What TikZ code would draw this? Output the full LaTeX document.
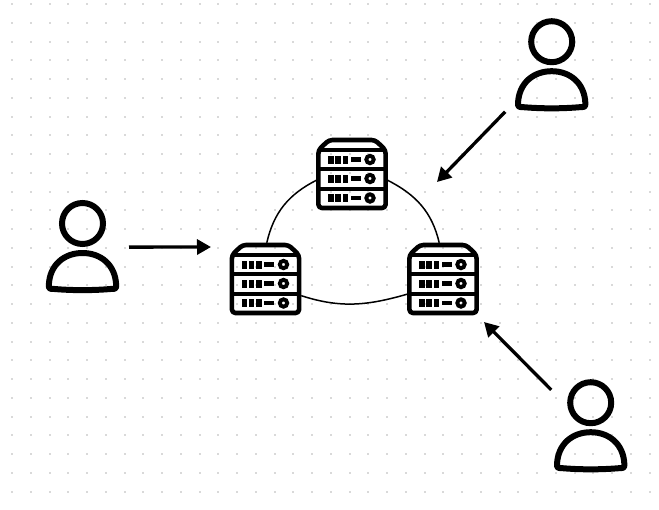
\documentclass[tikz,border=0pt]{standalone}
\usepackage{tikz}
\usetikzlibrary{arrows.meta,calc,positioning}

\begin{document}
\begin{tikzpicture}[x=1pt,y=-1pt,
              griddot/.style={fill=black!15},
              hostbox/.style={inner sep=0pt,minimum width=71pt,minimum height=72pt},
              userbox/.style={inner sep=0pt,minimum width=73pt,minimum height=88pt,outer sep=10pt},
              ring/.style={line width=1.5pt},
              flow/.style={-{Triangle[length=14pt,width=15pt]},line width=3.3pt},
              server/.pic={
                \draw[line width=4.6pt,rounded corners=3.5pt,line join=round]
                  (-33.6,-24) -- (-23,-34) -- (23,-34) -- (33.6,-24) -- (33.6,34) -- (-33.6,34) -- cycle;
                \draw[line width=4pt] (-33.6,-24) -- (33.6,-24);
                \draw[line width=4pt] (-33.6,-5.3) -- (33.6,-5.3);
                \draw[line width=4pt] (-33.6,14.5) -- (33.6,14.5);
                \foreach \rowy in {-14.5,4.5,24}{
                  \foreach \barx in {-21,-14,-6.5}{
                    \fill (\barx-2.6,\rowy-4) rectangle (\barx+2.6,\rowy+4);
                  }
                  \fill (-1.5,\rowy-2.1) rectangle (8.5,\rowy+2.1);
                  \draw[line width=3.9pt] (18,\rowy) circle (3.7pt);
                }
              },
              user/.pic={
                \draw[line width=6pt] (0,-31) circle (20.5pt);
                \draw[line width=6pt,line join=round]
                  (-33.7,31) .. controls (-33,10) and (-18,-1.5) .. (0,-1.5)
                  .. controls (18,-1.5) and (33,10) .. (33.7,31)
                  .. controls (34.5,35) and (30,34.5) .. (28,34.5)
                  .. controls (10,36) and (-10,36) .. (-28,34.5)
                  .. controls (-30,34.5) and (-34.5,35) .. (-33.7,31) -- cycle;
              }
            ]
            \useasboundingbox (0,0) rectangle (659,509);
            % dotted page grid
            \foreach \i in {0,...,34}{
              \foreach \j in {0,...,26}{
                \fill[griddot] ({12+18.75*\i-1},{4+18.75*\j-1}) rectangle ++(2,2);
              }
            }
            \node[hostbox] (hosttop) at (352,174) {};
            \node[hostbox] (hostleft) at (265.5,279) {};
            \node[hostbox] (hostright) at (443,279) {};
            \node[userbox] (userleft) at (82.5,254.5) {};
            \node[userbox] (usertop) at (551.7,72.7) {};
            \node[userbox,outer sep=3pt] (userbottom) at (590.7,433.7) {};
            \coordinate (tipleft) at (211,247);
            \coordinate (tiptop) at (437,182);
            \coordinate (tipbottom) at (484,322);
            \pic at (hosttop) {server};
            \pic at (hostleft) {server};
            \pic at (hostright) {server};
            \pic at (userleft) {user};
            \pic at (usertop) {user};
            \pic at (userbottom) {user};
            \draw[ring] (hosttop.190) to[out=207,in=77] (hostleft.88);
            \draw[ring] (hosttop.-10) to[out=-27,in=103] (hostright.96);
            \draw[ring] (hostleft.-25) to[out=-18,in=196] (hostright.203);
            \draw[flow] (userleft.9.2) -- (tipleft);
            \draw[flow] (usertop.220.8) -- (tiptop);
            \draw[flow] (userbottom.132.6) -- (tipbottom);
          \end{tikzpicture}
\end{document}
